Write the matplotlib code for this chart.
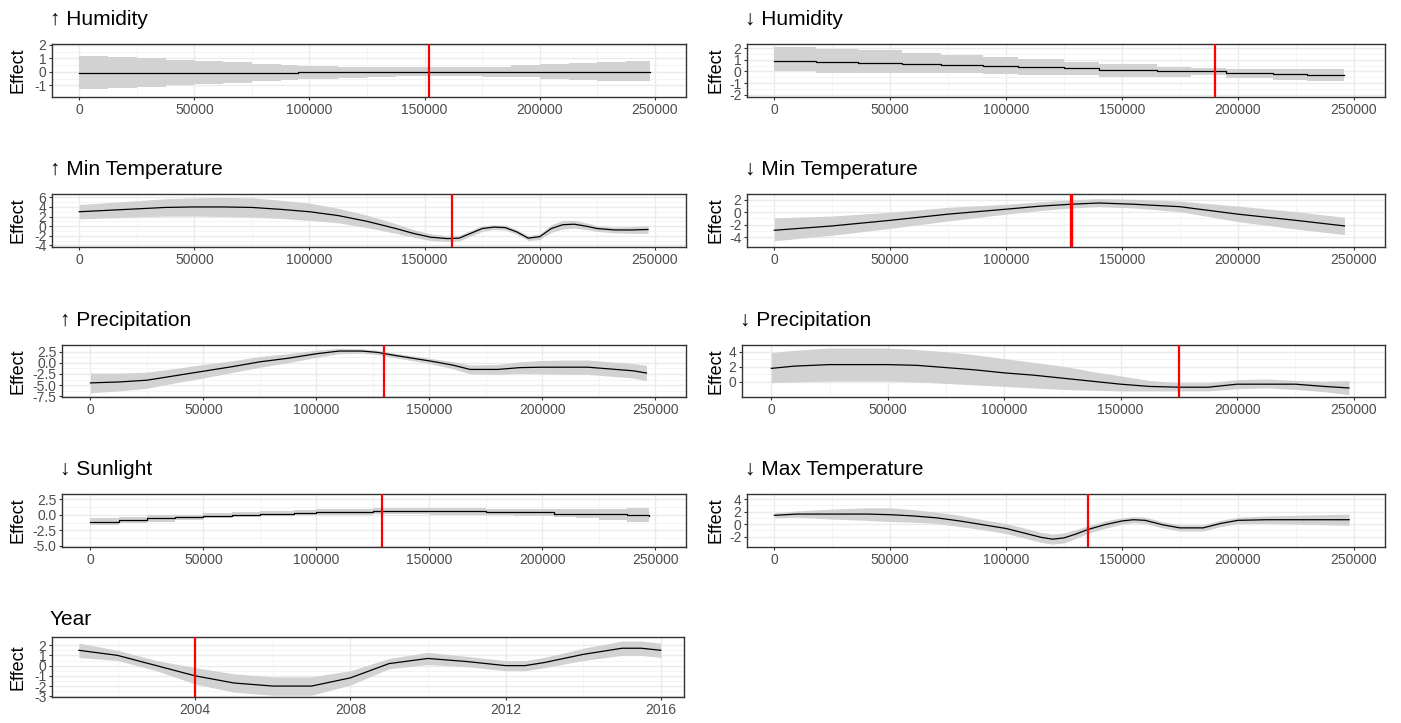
import matplotlib
matplotlib.use("Agg")
import matplotlib.pyplot as plt

plt.rcParams['font.family'] = ['Liberation Sans', 'DejaVu Sans']
plt.rcParams['axes.unicode_minus'] = False

# partial-effect curves: position, fitted effect, lower / upper band, threshold
hum_up_x = [0, 12500, 25000, 37500, 50000, 62500, 75000, 87500, 95000, 100000, 112500,
            125000, 137500, 150000, 162500, 175000, 187500, 200000, 212500, 225000, 237500, 248000]
hum_up_fit = [-0.05, -0.05, -0.05, -0.05, -0.05, -0.05, -0.05, -0.05, 0.02, 0.02, 0.02,
              0.02, 0.02, 0.02, 0.02, 0.02, 0.02, 0.02, 0.02, 0.02, 0.02, 0.02]
hum_up_lo = [-1.25, -1.2, -1.1, -1.0, -0.9, -0.8, -0.7, -0.6, -0.55, -0.5, -0.45,
             -0.35, -0.3, -0.3, -0.3, -0.35, -0.4, -0.5, -0.6, -0.65, -0.7, -0.7]
hum_up_hi = [1.2, 1.1, 1.0, 0.9, 0.8, 0.7, 0.6, 0.5, 0.45, 0.45, 0.4,
             0.35, 0.35, 0.35, 0.35, 0.4, 0.5, 0.55, 0.65, 0.7, 0.8, 0.8]
hum_up_cut = 152000

hum_down_x = [0, 18000, 36000, 55000, 72000, 90000, 105000, 125000, 140000, 165000,
              180000, 195000, 215000, 230000, 246000]
hum_down_fit = [0.9, 0.8, 0.7, 0.65, 0.55, 0.45, 0.35, 0.25, 0.15, 0.05,
                0.0, -0.1, -0.2, -0.3, -0.3]
hum_down_lo = [0.05, -0.1, -0.1, -0.1, -0.15, -0.2, -0.3, -0.35, -0.45, -0.5,
               -0.35, -0.6, -0.75, -0.8, -0.8]
hum_down_hi = [2.1, 1.95, 1.8, 1.6, 1.4, 1.25, 1.05, 0.8, 0.6, 0.4,
               0.3, 0.2, 0.2, 0.2, 0.2]
hum_down_cut = 190000

tmin_up_x = [0, 12500, 25000, 37500, 50000, 62500, 75000, 87500, 100000, 112500, 125000,
             137500, 145000, 152500, 160000, 165000, 170000, 175000, 180000, 185000, 190000,
             195000, 200000, 205000, 210000, 215000, 220000, 225000, 232500, 240000, 247000]
tmin_up_fit = [3.0, 3.3, 3.6, 3.9, 4.0, 4.0, 3.9, 3.5, 3.0, 2.2, 1.0,
               -0.5, -1.5, -2.3, -2.6, -2.5, -1.5, -0.5, -0.2, -0.3, -1.2,
               -2.5, -2.2, -0.5, 0.3, 0.4, 0.0, -0.5, -0.8, -0.8, -0.7]
tmin_up_lo = [1.5, 1.7, 1.9, 2.1, 2.1, 2.0, 1.9, 1.6, 1.2, 0.7, -0.3,
              -1.5, -2.3, -3.0, -3.2, -3.1, -2.1, -1.1, -0.7, -0.8, -1.7,
              -3.0, -2.8, -1.3, -0.6, -0.4, -0.7, -1.1, -1.4, -1.5, -1.5]
tmin_up_hi = [4.5, 4.9, 5.3, 5.7, 5.9, 6.0, 5.9, 5.4, 4.8, 3.7, 2.3,
              0.5, -0.7, -1.6, -2.0, -1.9, -0.9, 0.1, 0.3, 0.2, -0.7,
              -2.0, -1.6, 0.3, 1.2, 1.2, 0.7, 0.1, -0.2, -0.1, 0.1]
tmin_up_cut = 162000

tmin_down_x = [0, 25000, 50000, 75000, 100000, 115000, 128000, 140000, 155000, 175000,
               200000, 225000, 246000]
tmin_down_fit = [-2.9, -2.2, -1.3, -0.3, 0.5, 1.0, 1.3, 1.5, 1.3, 0.9, -0.3, -1.3, -2.2]
tmin_down_lo = [-4.6, -3.7, -2.6, -1.4, -0.3, 0.3, 0.7, 0.9, 0.7, 0.1, -1.5, -2.7, -3.6]
tmin_down_hi = [-0.9, -0.6, 0.0, 0.8, 1.3, 1.7, 2.0, 2.2, 2.1, 1.8, 1.0, 0.1, -0.8]
tmin_down_cut = 128000

prec_up_x = [0, 12500, 25000, 37500, 50000, 62500, 75000, 87500, 100000, 110000, 120000,
             127000, 135000, 150000, 160000, 168000, 180000, 190000, 200000, 210000, 220000,
             230000, 240000, 246000]
prec_up_fit = [-4.5, -4.3, -3.9, -2.9, -1.9, -0.9, 0.2, 1.0, 2.0, 2.6, 2.6,
               2.3, 1.6, 0.4, -0.5, -1.5, -1.5, -1.1, -1.0, -1.0, -1.0,
               -1.4, -1.8, -2.3]
prec_up_lo = [-6.7, -6.3, -5.7, -4.5, -3.4, -2.2, -1.0, 0.0, 1.2, 2.0, 2.1,
              1.8, 1.1, -0.2, -1.3, -2.5, -2.6, -2.4, -2.5, -2.6, -2.6,
              -3.0, -3.4, -4.0]
prec_up_hi = [-2.3, -2.3, -2.1, -1.3, -0.4, 0.4, 1.4, 2.0, 2.8, 3.2, 3.1,
              2.8, 2.1, 1.0, 0.3, -0.5, -0.4, 0.2, 0.5, 0.6, 0.6,
              0.2, -0.2, -0.6]
prec_up_cut = 130000

prec_down_x = [0, 10000, 25000, 50000, 62500, 75000, 87500, 100000, 112500, 125000,
               137500, 150000, 162500, 175000, 187500, 200000, 212500, 225000, 237500, 248000]
prec_down_fit = [1.8, 2.1, 2.3, 2.3, 2.2, 1.9, 1.6, 1.2, 0.9, 0.5,
                 0.1, -0.3, -0.6, -0.7, -0.7, -0.3, -0.3, -0.3, -0.6, -0.8]
prec_down_lo = [-0.1, 0.0, 0.1, 0.1, 0.0, -0.2, -0.4, -0.6, -0.8, -1.0,
                -1.1, -1.2, -1.2, -1.2, -1.2, -0.9, -0.8, -1.0, -1.3, -1.7]
prec_down_hi = [3.9, 4.2, 4.5, 4.5, 4.3, 4.0, 3.6, 3.1, 2.6, 2.1,
                1.4, 0.8, 0.2, -0.1, -0.1, 0.3, 0.4, 0.2, 0.1, 0.2]
prec_down_cut = 175000

sun_down_x = [0, 12500, 25000, 37500, 50000, 62500, 75000, 90000, 100000, 112500, 125000,
              137500, 150000, 162500, 175000, 187500, 205000, 215000, 225000, 237500, 247000]
sun_down_fit = [-1.1, -0.9, -0.6, -0.4, -0.2, -0.1, 0.2, 0.3, 0.4, 0.4, 0.6,
                0.6, 0.6, 0.6, 0.4, 0.4, 0.2, 0.2, 0.1, -0.1, -0.2]
sun_down_lo = [-1.7, -1.4, -1.1, -0.8, -0.6, -0.4, -0.2, -0.1, 0.0, 0.0, 0.1,
               0.1, 0.0, 0.0, -0.1, -0.2, -0.4, -0.5, -0.8, -1.1, -1.4]
sun_down_hi = [-0.5, -0.3, -0.1, 0.0, 0.3, 0.4, 0.6, 0.8, 0.9, 1.0, 1.1,
               1.1, 1.1, 1.1, 1.0, 1.0, 0.9, 0.9, 1.0, 1.1, 1.2]
sun_down_cut = 129000

tmax_down_x = [0, 10000, 25000, 40000, 50000, 60000, 70000, 80000, 90000, 100000, 107500,
               115000, 120000, 125000, 130000, 135000, 142500, 150000, 155000, 160000, 167500,
               175000, 185000, 192500, 200000, 212500, 225000, 237500, 248000]
tmax_down_fit = [1.4, 1.6, 1.6, 1.6, 1.5, 1.3, 1.0, 0.5, -0.1, -0.7, -1.4,
                 -2.1, -2.4, -2.2, -1.6, -0.9, -0.1, 0.5, 0.7, 0.6, -0.1,
                 -0.6, -0.6, 0.1, 0.6, 0.7, 0.7, 0.7, 0.7]
tmax_down_lo = [1.0, 1.1, 0.8, 0.6, 0.4, 0.3, 0.1, -0.4, -0.9, -1.5, -2.2,
                -2.9, -3.2, -3.0, -2.3, -1.5, -0.7, 0.0, 0.2, 0.1, -0.6,
                -1.1, -1.1, -0.4, 0.1, 0.1, 0.0, -0.1, -0.2]
tmax_down_hi = [1.8, 2.1, 2.4, 2.6, 2.6, 2.3, 1.9, 1.4, 0.7, 0.1, -0.6,
                -1.3, -1.6, -1.4, -0.9, -0.3, 0.5, 1.0, 1.2, 1.1, 0.4,
                -0.1, -0.1, 0.6, 1.1, 1.3, 1.4, 1.5, 1.6]
tmax_down_cut = 135500

year_x = [2001, 2002, 2003, 2004, 2005, 2006, 2007, 2008, 2009, 2010, 2011, 2012,
          2012.5, 2013, 2014, 2015, 2015.5, 2016]
year_fit = [1.5, 1.0, 0.0, -1.0, -1.7, -2.0, -2.0, -1.2, 0.2, 0.7, 0.4, 0.0,
            0.0, 0.3, 1.1, 1.7, 1.7, 1.5]
year_lo = [0.8, 0.5, -0.5, -1.8, -2.6, -2.9, -2.9, -1.9, -0.3, 0.1, -0.1, -0.5,
           -0.5, -0.2, 0.5, 1.0, 1.0, 0.8]
year_hi = [2.2, 1.5, 0.5, -0.2, -0.8, -1.1, -1.1, -0.5, 0.7, 1.3, 0.9, 0.5,
           0.5, 0.8, 1.7, 2.4, 2.4, 2.2]
year_cut = 2004

W, H = 1401, 723
fig = plt.figure(figsize=(W / 100, H / 100), dpi=100)
fig.patch.set_facecolor('white')

pos_ticks = [0, 50000, 100000, 150000, 200000, 250000]
pos_minor = [25000, 75000, 125000, 175000, 225000]


def panel(box, title, x, fit, lo, hi, cut, ylim, yticks, ylabels,
          step=False, xticks=pos_ticks, xminor=pos_minor, xlim=(-11800, 263500),
          cut_lw=1.6, title_dy=19):
    left, top, right, bottom = box
    ax = fig.add_axes([left / W, 1 - bottom / H, (right - left) / W, (bottom - top) / H])
    ax.set_facecolor('white')
    ds = 'steps-post' if step else 'default'
    ax.fill_between(x, lo, hi, color='#D2D2D2', lw=0, step='post' if step else None, zorder=2)
    ax.plot(x, fit, color='black', lw=0.9, drawstyle=ds, zorder=3)
    ax.axvline(cut, color='#FF0000', lw=cut_lw, zorder=4)
    ax.set_xlim(*xlim)
    ax.set_ylim(*ylim)
    ax.set_xticks(xticks)
    ax.set_xticklabels([str(t) for t in xticks])
    ax.set_xticks(xminor, minor=True)
    ax.set_yticks(yticks)
    ax.set_yticklabels(ylabels)
    ymin = [(a + b) / 2 for a, b in zip(yticks[:-1], yticks[1:])]
    ax.set_yticks(ymin, minor=True)
    ax.grid(which='major', color='#EBEBEB', lw=1.0, zorder=0)
    ax.grid(which='minor', color='#F2F2F2', lw=0.6, zorder=0)
    ax.set_axisbelow(True)
    ax.tick_params(which='major', direction='out', length=2.5, width=0.8, color='#333333',
                   labelsize=10, labelcolor='#4D4D4D', pad=1.5)
    ax.tick_params(which='minor', length=0)
    for s in ax.spines.values():
        s.set_color('#333333')
        s.set_linewidth(1.0)
    fig.text((left - 2) / W, 1 - (top - title_dy) / H, title, fontsize=15,
             ha='left', va='baseline', color='black')
    xlab = 18 if left < 700 else 716
    fig.text(xlab / W, 1 - ((top + bottom) / 2) / H, 'Effect', rotation=90,
             fontsize=13, ha='center', va='center', color='black')
    return ax


panel((52, 44, 686, 97), '\u2191 Humidity', hum_up_x, hum_up_fit, hum_up_lo, hum_up_hi,
      hum_up_cut, (-1.86, 2.07), [-1, 0, 1, 2], ['-1', '0', '1', '2'], step=True)
panel((747, 44, 1385, 97), '\u2193 Humidity', hum_down_x, hum_down_fit, hum_down_lo,
      hum_down_hi, hum_down_cut, (-2.2, 2.35), [-2, -1, 0, 1, 2],
      ['-2', '-1', '0', '1', '2'], step=True)
panel((52, 194, 686, 247), '\u2191 Min Temperature', tmin_up_x, tmin_up_fit, tmin_up_lo,
      tmin_up_hi, tmin_up_cut, (-4.35, 6.7), [-4, -2, 0, 2, 4, 6],
      ['-4', '-2', '0', '2', '4', '6'])
panel((747, 194, 1385, 247), '\u2193 Min Temperature', tmin_down_x, tmin_down_fit,
      tmin_down_lo, tmin_down_hi, tmin_down_cut, (-5.6, 2.95), [-4, -2, 0, 2],
      ['-4', '-2', '0', '2'], cut_lw=2.4)
panel((62, 345, 686, 397), '\u2191 Precipitation', prec_up_x, prec_up_fit, prec_up_lo,
      prec_up_hi, prec_up_cut, (-7.65, 3.95), [-7.5, -5, -2.5, 0, 2.5],
      ['-7.5', '-5.0', '-2.5', '0.0', '2.5'], xlim=(-12600, 263500))
panel((742, 345, 1385, 397), '\u2193 Precipitation', prec_down_x, prec_down_fit,
      prec_down_lo, prec_down_hi, prec_down_cut, (-2.0, 4.9), [0, 2, 4], ['0', '2', '4'],
      xlim=(-12600, 263500))
panel((62, 494, 686, 547), '\u2193 Sunlight', sun_down_x, sun_down_fit, sun_down_lo,
      sun_down_hi, sun_down_cut, (-5.2, 3.35), [-5, -2.5, 0, 2.5],
      ['-5.0', '-2.5', '0.0', '2.5'], step=True, xlim=(-12600, 263500))
panel((747, 494, 1385, 547), '\u2193 Max Temperature', tmax_down_x, tmax_down_fit,
      tmax_down_lo, tmax_down_hi, tmax_down_cut, (-3.65, 4.8), [-2, 0, 2, 4],
      ['-2', '0', '2', '4'])
panel((52, 637, 684, 697), 'Year', year_x, year_fit, year_lo, year_hi, year_cut,
      (-3.07, 2.8), [-3, -2, -1, 0, 1, 2], ['-3', '-2', '-1', '0', '1', '2'],
      xticks=[2004, 2008, 2012, 2016], xminor=[2002, 2006, 2010, 2014],
      xlim=(2000.31, 2016.6), title_dy=12)

fig.savefig('out.png', dpi=100, facecolor='white')
